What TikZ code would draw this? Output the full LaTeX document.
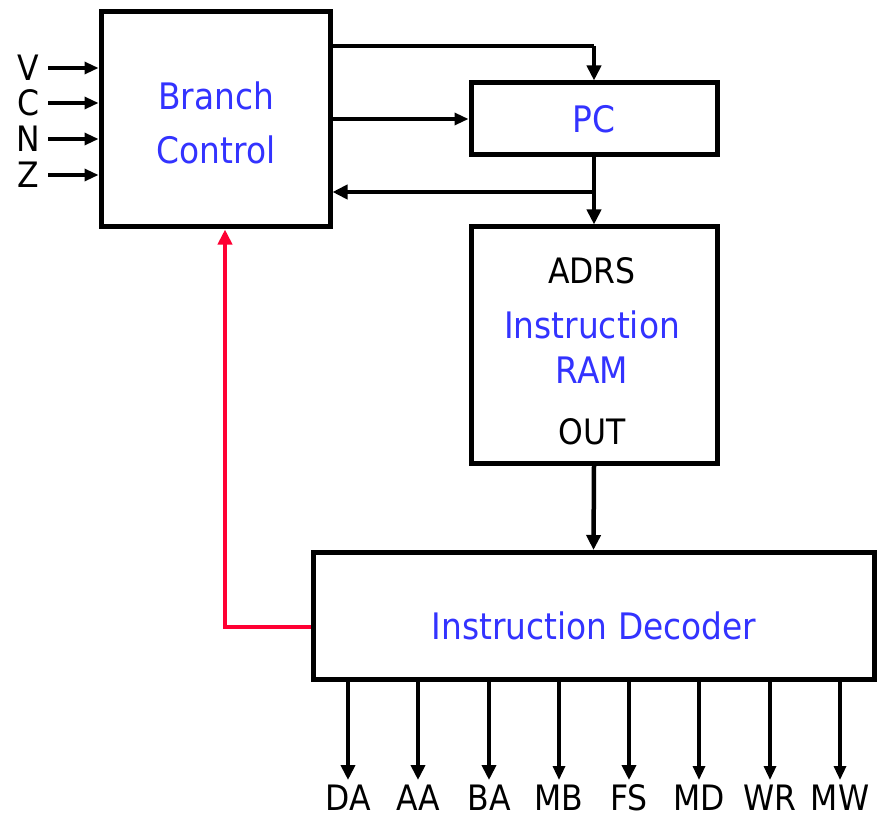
\documentclass[tikz,border=0pt]{standalone}
\usepackage{fontspec}
\setmainfont{DejaVu Sans}[FakeStretch=0.9]
\usetikzlibrary{arrows.meta,calc}
\definecolor{txtblue}{RGB}{51,51,255}
\definecolor{sigred}{RGB}{255,0,51}
\begin{document}
\begin{tikzpicture}[x=1pt,y=-1pt,
  box/.style={draw,line width=5pt,inner sep=0pt,text=txtblue,align=center,font=\fontsize{36.5}{45}\selectfont},
  lbl/.style={inner sep=0pt,font=\fontsize{35}{40}\selectfont},
  btxt/.style={inner sep=0pt,text=txtblue,font=\fontsize{36.5}{45}\selectfont},
  thickarr/.style={line width=4.5pt,-{Triangle[length=15pt,width=14pt]}},
  thinarr/.style={line width=3.2pt,-{Triangle[length=14pt,width=12pt]}},
  thickline/.style={line width=4.5pt}]
\useasboundingbox (0,0) rectangle (885,818);
% boxes
\node[box,minimum width=229pt,minimum height=215pt] (branch) at (215.5,119.5) {};
\node[btxt,align=center,font=\fontsize{36.5}{54}\selectfont] (branchtxt) at (216,123) {Branch\\Control};
\node[box,minimum width=246pt,minimum height=72pt] (pc) at (594,119) {PC};
\node[box,minimum width=246pt,minimum height=236pt] (ram) at (594,345) {};
\node[btxt,align=center,font=\fontsize{36.5}{45}\selectfont] (ramtxt) at (592,347) {Instruction\\RAM};
\node[lbl] (adrs) at (592,271) {ADRS};
\node[lbl] (out) at (592,432) {OUT};
\node[box,minimum width=561pt,minimum height=127pt] (dec) at (593.5,616) {};
\node[btxt] (dectxt) at (594,626) {Instruction Decoder};
% inputs
\foreach \n/\y in {V/68,C/103,N/139,Z/175}{
  \node[lbl] (l\n) at (28,\y) {\n};
  \coordinate (s\n) at (48,\y);
  \draw[thinarr] (s\n) -- (s\n -| branch.west);
}
% branch -> PC
\coordinate (j1) at (594,46);
\draw[thickline] (branch.east |- j1) -- (j1);
\draw[thickarr] (j1) -- (pc.north);
\draw[thinarr] (branch.east |- pc.west) -- (pc.west);
% PC -> RAM and back to branch
\coordinate (j2) at (594,192);
\draw[thickarr] (pc.south) -- (ram.north);
\draw[thickarr] (j2) -- (branch.east |- j2);
% RAM -> decoder
\draw[thickarr] (ram.south) -- (dec.north);
% red feedback
\coordinate (r1) at (225,627);
\draw[sigred,line width=4.5pt,-{Triangle[length=15pt,width=14pt]}]
  (dec.west |- r1) -- (r1) -- (r1 |- branch.south);
% outputs
\foreach \t/\x/\s in {DA/348/thickarr,AA/418/thickarr,BA/489/thickarr,MB/559/thinarr,FS/629/thickarr,MD/699/thinarr,WR/770/thinarr,MW/840/thinarr}{
  \coordinate (o\t) at (\x,780);
  \draw[\s] (o\t |- dec.south) -- (o\t);
  \node[lbl] (n\t) at (\x,798) {\t};
}
\end{tikzpicture}
\end{document}
